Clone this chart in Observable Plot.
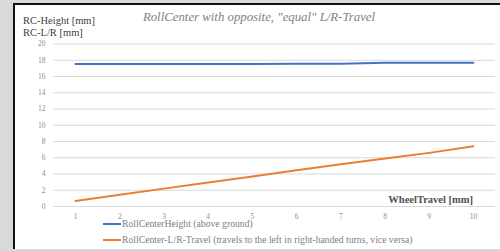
<!DOCTYPE html>
<html>
<head>
<meta charset="utf-8">
<script src="https://cdn.jsdelivr.net/npm/d3@7"></script>
<script src="https://cdn.jsdelivr.net/npm/@observablehq/plot@0.6"></script>
<style>
  html, body { margin: 0; padding: 0; }
  body { width: 500px; height: 251px; background: #d9d9d9; overflow: hidden; position: relative; font-family: "Liberation Serif", "DejaVu Serif", serif; }
  #panel { position: absolute; left: 13px; top: 3px; width: 500px; height: 244px; background: #fff; border-left: 2px solid #111; border-top: 2px solid #111; }
  #chart { position: absolute; left: 0; top: 0; }
  .t { position: absolute; white-space: nowrap; line-height: 1; }
  #title { left: 0; width: 518px; text-align: center; top: 11px; font-style: italic; font-size: 12.8px; color: #7f7f7f; }
  .ylab { left: 23px; font-size: 10.5px; color: #404040; }
  #xlab { right: 27px; top: 195px; font-weight: bold; font-size: 10.5px; color: #505050; }
  .leg { left: 103px; font-size: 9.7px; color: #808080; display: flex; align-items: center; }
  .leg span.sw { display: inline-block; width: 18px; height: 2px; margin-right: 1px; }
</style>
</head>
<body>
<div id="panel"></div>
<div id="chart"></div>
<div class="t" id="title"></div>
<div class="t ylab" id="ylab1" style="top:16px"></div>
<div class="t ylab" id="ylab2" style="top:28px"></div>
<div class="t" id="xlab"></div>
<div id="legend"></div>
<script>
const wheelTravel = [1, 2, 3, 4, 5, 6, 7, 8, 9, 10];
const rcHeight = [17.55, 17.55, 17.55, 17.55, 17.55, 17.56, 17.57, 17.68, 17.68, 17.68];
const rcLR = [0.68, 1.45, 2.2, 2.95, 3.7, 4.45, 5.2, 5.9, 6.6, 7.42];
const yTicks = [0, 2, 4, 6, 8, 10, 12, 14, 16, 18, 20];
const seriesNames = ["RollCenterHeight (above ground)", "RollCenter-L/R-Travel (travels to the left in right-handed turns, vice versa)"];
const seriesColors = ["#4472c4", "#ed7d31"];
const titleText = "RollCenter with opposite, \"equal\" L/R-Travel";
const yLabels = ["RC-Height [mm]", "RC-L/R [mm]"];
const xLabel = "WheelTravel [mm]";

const data = [];
wheelTravel.forEach((x, i) => {
  data.push({x, y: rcHeight[i], s: seriesNames[0]});
  data.push({x, y: rcLR[i], s: seriesNames[1]});
});

const chart = Plot.plot({
  width: 500,
  height: 251,
  marginTop: 43.5,
  marginBottom: 45,
  marginLeft: 53,
  marginRight: 5,
  style: { background: "transparent", fontFamily: "Liberation Serif, DejaVu Serif, serif", fontSize: "7.5px", color: "#8c8c8c" },
  x: { domain: [0.5, 10.5] },
  y: { domain: [0, 20] },
  color: { domain: seriesNames, range: seriesColors },
  marks: [
    Plot.ruleY(yTicks, { stroke: "#d9d9d9", strokeWidth: 1 }),
    Plot.axisY(yTicks, { tickSize: 0, tickPadding: 8, label: null, fill: "#8c8c8c" }),
    Plot.axisX(wheelTravel, { tickSize: 0, tickPadding: 7, label: null, fill: "#8c8c8c" }),
    Plot.line(data, { x: "x", y: "y", z: "s", stroke: "s", strokeWidth: 2 })
  ]
});
document.getElementById("chart").appendChild(chart);

document.getElementById("title").textContent = titleText;
document.getElementById("ylab1").textContent = yLabels[0];
document.getElementById("ylab2").textContent = yLabels[1];
document.getElementById("xlab").textContent = xLabel;

const legend = document.getElementById("legend");
const legTops = [219, 235];
seriesNames.forEach((n, i) => {
  const d = document.createElement("div");
  d.className = "t leg";
  d.style.top = legTops[i] + "px";
  const sw = document.createElement("span");
  sw.className = "sw";
  sw.style.background = seriesColors[i];
  const tx = document.createElement("span");
  tx.textContent = n;
  d.appendChild(sw);
  d.appendChild(tx);
  legend.appendChild(d);
});
</script>
</body>
</html>
